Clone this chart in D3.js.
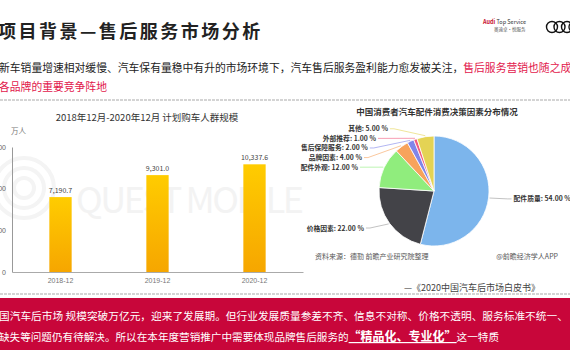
<!DOCTYPE html>
<html>
<head>
<meta charset="utf-8">
<script src="https://cdn.jsdelivr.net/npm/d3@7"></script>
<style>
  body { margin: 0; background: #fff; }
  svg { display: block; font-family: "Noto Sans CJK SC", "Noto Sans", sans-serif; }
</style>
</head>
<body>
<div id="chart"></div>
<script>
// data
const barCats = ['2018-12', '2019-12', '2020-12'];
const barVals = [7190.7, 9301.0, 10337.6];
const barTicks = [0, 4000, 8000, 12000];

const pieNames = ['配件质量', '价格因素', '配件外观', '品牌因素', '售后保障服务', '外部推荐', '其他'];
const pieVals = [54, 22, 12, 4, 2, 1, 5];
const pieColors = ['#7cb5ec', '#434348', '#90ed7d', '#f7a35c', '#8085e9', '#f15c80', '#e4d354'];

const W = 570, H = 360;
const svg = d3.select('#chart').append('svg')
  .attr('width', W).attr('height', H);

// header
svg.append('text')
  .attr('x', -2).attr('y', 38)
  .attr('font-size', 18).attr('font-weight', 'bold')
  .attr('letter-spacing', 2.5).attr('fill', '#222')
  .text('项目背景—售后服务市场分析');

svg.append('text').attr('x', 483).attr('y', 24).attr('font-size', 5.5).attr('fill', '#333')
  .html('<tspan fill="#c8102e" font-weight="bold">Audi</tspan> Top Service');
svg.append('text').attr('x', 494).attr('y', 31).attr('font-size', 4.5).attr('fill', '#555')
  .text('奥迪卓·悦服务');
d3.range(4).forEach(i => {
  svg.append('circle').attr('cx', 552 + i * 7.5).attr('cy', 27).attr('r', 5.5)
    .attr('fill', 'none').attr('stroke', '#111').attr('stroke-width', 1.4);
});

// intro text
const t1 = svg.append('text').attr('x', -1).attr('y', 72).attr('font-size', 10.8).attr('fill', '#222');
t1.append('tspan').text('新车销量增速相对缓慢、汽车保有量稳中有升的市场环境下，汽车售后服务盈利能力愈发被关注，');
t1.append('tspan').attr('fill', '#e2174c').text('售后服务营销也随之成为');
svg.append('text').attr('x', -1).attr('y', 91).attr('font-size', 10.8).attr('fill', '#e2174c')
  .text('各品牌的重要竞争阵地');

function dotted(y) {
  svg.append('line').attr('x1', 0).attr('x2', W).attr('y1', y).attr('y2', y)
    .attr('stroke', '#d4d4d4').attr('stroke-width', 2).attr('stroke-dasharray', '3,1');
}
dotted(100);
dotted(294);

// ---------- bar chart ----------
// watermark
[10, 20, 30].forEach(r => {
  svg.append('circle').attr('cx', 24).attr('cy', 188).attr('r', r)
    .attr('fill', 'none').attr('stroke', '#f4f4f4').attr('stroke-width', 4);
});
svg.append('text').attr('x', 76).attr('y', 213).attr('font-size', 36)
  .attr('fill', '#f3f3f3').attr('textLength', 228).text('QUEST MOBILE');

svg.append('text').attr('x', 147).attr('y', 121).attr('text-anchor', 'middle')
  .attr('font-size', 9.5).attr('fill', '#333')
  .text('2018年12月-2020年12月 计划购车人群规模');
svg.append('text').attr('x', 11).attr('y', 134).attr('font-size', 7.5).attr('fill', '#777').text('万人');

const x = d3.scaleBand().domain(barCats).range([12, 303]);
const y = d3.scaleLinear().domain([0, 12000]).range([272, 147]);

const defs = svg.append('defs');
const grad = defs.append('linearGradient').attr('id', 'barGrad')
  .attr('x1', 0).attr('y1', 0).attr('x2', 0).attr('y2', 1);
grad.append('stop').attr('offset', '0%').attr('stop-color', '#ffcc00');
grad.append('stop').attr('offset', '100%').attr('stop-color', '#f6a600');

const yAxis = svg.append('g').attr('transform', 'translate(12,0)')
  .call(d3.axisLeft(y).tickValues(barTicks).tickSize(0).tickPadding(6));
yAxis.select('.domain').attr('stroke', '#999');
yAxis.selectAll('text').attr('font-size', 7).attr('fill', '#666').attr('font-family', 'inherit');

const xAxis = svg.append('g').attr('transform', 'translate(0,272)')
  .call(d3.axisBottom(x).tickSize(0).tickPadding(6));
xAxis.select('.domain').attr('stroke', '#aaa');
xAxis.selectAll('text').attr('font-size', 7).attr('fill', '#777').attr('font-family', 'inherit');

const bw = x.bandwidth() * 0.23;
svg.append('g').selectAll('rect').data(barVals).enter().append('rect')
  .attr('x', (d, i) => x(barCats[i]) + x.bandwidth() / 2 - bw / 2)
  .attr('y', d => y(d))
  .attr('width', bw)
  .attr('height', d => y(0) - y(d))
  .attr('fill', 'url(#barGrad)');

svg.append('g').selectAll('text').data(barVals).enter().append('text')
  .attr('x', (d, i) => x(barCats[i]) + x.bandwidth() / 2)
  .attr('y', d => y(d) - 4)
  .attr('text-anchor', 'middle').attr('font-size', 7).attr('fill', '#444')
  .text(d => d3.format(',.1f')(d));

// ---------- pie chart ----------
const cx = 434, cy = 191, R = 55;
svg.append('text').attr('x', 437).attr('y', 115).attr('text-anchor', 'middle')
  .attr('font-size', 8.5).attr('font-weight', 'bold').attr('fill', '#333')
  .text('中国消费者汽车配件消费决策因素分布情况');

const pie = d3.pie().sort(null).value(d => d);
const arcs = pie(pieVals);
const arc = d3.arc().innerRadius(0).outerRadius(R);
const pg = svg.append('g').attr('transform', `translate(${cx},${cy})`);
pg.selectAll('path').data(arcs).enter().append('path')
  .attr('d', arc)
  .attr('fill', (d, i) => pieColors[i])
  .attr('stroke', '#fff').attr('stroke-width', 0.8);

// label layout: point on the rim, then stack left labels with min gap
const lab = arcs.map((a, i) => {
  const m = (a.startAngle + a.endAngle) / 2;
  return {
    i, side: Math.sin(m) >= 0 ? 1 : -1,
    px: Math.sin(m) * (R + 1), py: -Math.cos(m) * (R + 1),
    ly: -Math.cos(m) * (R + 8)
  };
});
const left = lab.filter(d => d.side < 0).sort((a, b) => a.ly - b.ly);
for (let k = 1; k < left.length; k++) {
  left[k].ly = Math.max(left[k].ly, left[k - 1].ly + 9.6);
}
const R2 = R + 19;
lab.forEach(d => {
  const dy = Math.max(-R2 + 6, Math.min(R2 - 1, d.ly));
  d.lx = d.side * Math.sqrt(R2 * R2 - dy * dy);
});

pg.selectAll('polyline').data(lab).enter().append('polyline')
  .attr('points', d => `${d.px},${d.py} ${d.lx},${d.ly} ${d.lx + d.side * 4},${d.ly}`)
  .attr('fill', 'none')
  .attr('stroke', d => d.i === 0 || d.i === 1 ? '#999' : pieColors[d.i])
  .attr('stroke-width', 0.6);

pg.selectAll('text.lbl').data(lab).enter().append('text')
  .attr('class', 'lbl')
  .attr('x', d => d.lx + d.side * 6)
  .attr('y', d => d.ly + 2.5)
  .attr('text-anchor', d => d.side > 0 ? 'start' : 'end')
  .attr('font-size', 6.8).attr('font-weight', 'bold').attr('fill', '#333')
  .text(d => `${pieNames[d.i]}: ${pieVals[d.i].toFixed(2)} %`);

svg.append('text').attr('x', 315).attr('y', 259).attr('font-size', 7).attr('fill', '#555')
  .text('资料来源：德勤 前瞻产业研究院整理');
svg.append('text').attr('x', 558).attr('y', 259).attr('text-anchor', 'end')
  .attr('font-size', 7).attr('fill', '#555').text('@前瞻经济学人APP');

svg.append('text').attr('x', 540).attr('y', 291).attr('text-anchor', 'end')
  .attr('font-size', 9).attr('fill', '#444').text('—《2020中国汽车后市场白皮书》');

// ---------- bottom band ----------
svg.append('rect').attr('x', 0).attr('y', 298).attr('width', W).attr('height', 52)
  .attr('fill', '#c8063a');
svg.append('text').attr('x', -1).attr('y', 320).attr('font-size', 10.7).attr('fill', '#fff')
  .text('国汽车后市场 规模突破万亿元，迎来了发展期。但行业发展质量参差不齐、信息不对称、价格不透明、服务标准不统一、');
const b2 = svg.append('text').attr('x', -1).attr('y', 341).attr('font-size', 10.6).attr('fill', '#fff');
b2.append('tspan').text('缺失等问题仍有待解决。所以在本年度营销推广中需要体现品牌售后服务的');
b2.append('tspan').attr('font-size', 12).attr('font-weight', 'bold')
  .attr('text-decoration', 'underline').text('“精品化、专业化”');
b2.append('tspan').text('这一特质');
</script>
</body>
</html>
